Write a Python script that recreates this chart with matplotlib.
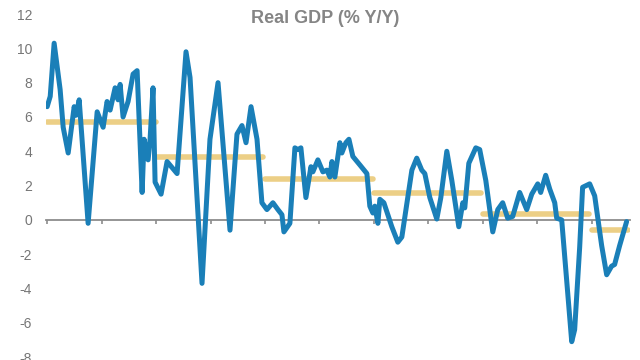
import matplotlib
matplotlib.use("Agg")
import matplotlib.pyplot as plt

# Real GDP % Y/Y (date as decimal year, value in %)
years = [1961.0, 1961.28, 1961.64, 1962.19, 1962.47, 1962.93, 1963.48, 1963.66, 1963.94,
         1964.76, 1965.59, 1966.14, 1966.50, 1966.78, 1967.24, 1967.51, 1967.70, 1967.97,
         1968.43, 1968.89, 1969.26, 1969.72, 1969.90, 1970.27, 1970.45, 1970.72, 1970.91,
         1971.46, 1972.01, 1972.93, 1973.75, 1974.12, 1975.22, 1975.95, 1976.69, 1977.79,
         1978.43, 1978.89, 1979.26, 1979.72, 1980.27, 1980.72, 1981.18, 1981.73, 1982.19,
         1982.56, 1982.74, 1983.29, 1983.75, 1984.03, 1984.30, 1984.76, 1985.22, 1985.40,
         1985.86, 1986.32, 1986.69, 1986.96, 1987.15, 1987.42, 1987.88, 1988.06, 1988.43,
         1988.71, 1989.07, 1989.72, 1990.36, 1990.63, 1990.91, 1991.09, 1991.37, 1991.55,
         1991.92, 1992.65, 1993.20, 1993.57, 1994.49, 1994.94, 1995.40, 1995.68, 1996.14,
         1996.78, 1997.15, 1997.70, 1998.16, 1998.80, 1999.17, 1999.35, 1999.72, 2000.36,
         2000.72, 2001.28, 2001.92, 2002.38, 2002.83, 2003.29, 2003.75, 2004.39, 2005.04,
         2005.50, 2006.05, 2006.32, 2006.78, 2007.15, 2007.61, 2007.79, 2008.25, 2009.17,
         2009.44, 2009.90, 2010.17, 2010.82, 2011.28, 2011.92, 2012.38, 2012.83, 2013.11,
         2013.57, 2014.21]
gdp = [6.6, 7.2, 10.3, 7.6, 5.4, 3.9, 6.6, 6.1, 7.0,
       -0.2, 6.3, 5.4, 6.9, 6.4, 7.7, 7.0, 7.9, 6.0,
       6.9, 8.5, 8.7, 1.6, 4.7, 3.5, 4.7, 7.7, 2.2,
       1.5, 3.4, 2.7, 9.8, 8.3, -3.7, 4.7, 8.0, -0.6,
       5.0, 5.5, 4.5, 6.6, 4.7, 1.0, 0.6, 1.0, 0.6,
       0.3, -0.7, -0.2, 4.2, 4.1, 4.2, 1.3, 3.1, 2.8,
       3.5, 2.8, 2.9, 2.5, 3.4, 2.5, 4.5, 3.9, 4.5,
       4.7, 3.7, 3.2, 2.7, 0.8, 0.4, 0.8, -0.2, 1.2,
       1.0, -0.4, -1.3, -1.0, 2.9, 3.6, 2.9, 2.7, 1.3,
       0.05, 1.3, 4.0, 2.3, -0.4, 1.0, 0.7, 3.3, 4.2,
       4.1, 2.3, -0.7, 0.6, 1.0, 0.1, 0.2, 1.6, 0.6,
       1.5, 2.1, 1.6, 2.6, 1.8, 1.0, 0.1, 0.0, -7.1,
       -6.4, -1.6, 1.9, 2.1, 1.4, -1.5, -3.2, -2.7, -2.6,
       -1.5, -0.1]

# Decade averages
avg_start = [1961.0, 1971.0, 1981.0, 1991.0, 2001.0, 2011.0]
avg_end = [1970.95, 1980.85, 1990.9, 2000.85, 2010.8, 2014.3]
avg_value = [5.7, 3.65, 2.4, 1.57, 0.35, -0.6]

x_ticks = [1961, 1966, 1971, 1976, 1981, 1986, 1991, 1996, 2001, 2006, 2011]
y_ticks = [-8, -6, -4, -2, 0, 2, 4, 6, 8, 10, 12]

plt.rcParams['font.family'] = ['Liberation Sans', 'DejaVu Sans']

fig = plt.figure(figsize=(6.4, 3.6), dpi=100)
ax = fig.add_axes([0.072, 0.008, 0.912, 0.953])

ax.plot(years, gdp, color='#1a7fb8', lw=3.6, solid_joinstyle='round',
        solid_capstyle='round', zorder=3)
for s, e, v in zip(avg_start, avg_end, avg_value):
    ax.plot([s, e], [v, v], color='#eccf86', lw=4.0, solid_capstyle='round', zorder=2)

ax.set_xlim(1960.9, 2014.5)
ax.set_ylim(-8, 12)
ax.set_xticks(x_ticks)
ax.set_xticklabels([])
ax.set_yticks(y_ticks)
ax.set_yticklabels([str(t) for t in y_ticks])

for side in ['top', 'right', 'left']:
    ax.spines[side].set_visible(False)
ax.spines['bottom'].set_position(('data', 0))
ax.spines['bottom'].set_color('#8c8c8c')
ax.spines['bottom'].set_linewidth(1.3)
ax.tick_params(axis='x', direction='out', length=3, width=1.2, color='#8c8c8c')
ax.tick_params(axis='y', length=0, pad=10, labelsize=10, labelcolor='#767676')

fig.text(0.508, 0.948, 'Real GDP (% Y/Y)', ha='center', va='center',
         fontsize=13, fontweight='bold', color='#858585')

fig.savefig('out.png', dpi=100)
